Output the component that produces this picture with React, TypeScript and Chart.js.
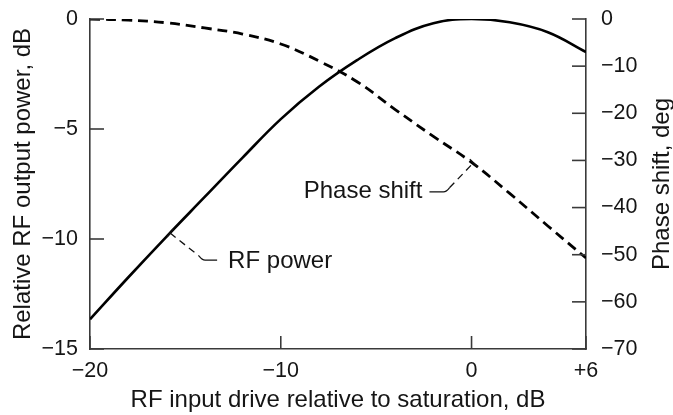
import React, { useEffect, useRef } from "react";
import { Chart, registerables } from "chart.js";

Chart.register(...registerables);

// ---- data ----
const inputDrive = [-20, -18, -16, -14, -12, -10, -8, -6, -4, -2, 0, 2, 4, 6];
const rfPower = [-13.65, -11.75, -9.9, -8.1, -6.3, -4.55, -3.08, -1.87, -0.87, -0.19, 0, -0.15, -0.6, -1.5];
const phaseShift = [0, -0.25, -0.8, -1.9, -3.2, -5.3, -8.9, -13.3, -19.2, -24.9, -30.4, -37.0, -43.9, -50.7];

const xTickValues = [-20, -10, 0, 6];
const xTickLabels = ["\u221220", "\u221210", "0", "+6"];
const powerTickValues = [0, -5, -10, -15];
const powerTickLabels = ["0", "\u22125", "\u221210", "\u221215"];
const phaseTickValues = [0, -10, -20, -30, -40, -50, -60, -70];
const phaseTickLabels = ["0", "\u221210", "\u221220", "\u221230", "\u221240", "\u221250", "\u221260", "\u221270"];

const xTitle = "RF input drive relative to saturation, dB";
const powerTitle = "Relative RF output power, dB";
const phaseTitle = "Phase shift, deg";
const powerLabel = "RF power";
const phaseLabel = "Phase shift";
const powerLabelAnchor = [-15.8, -9.73];
const phaseLabelAnchor = [0.1, -30.5];

// ---- styles ----
const FONT = '"Liberation Sans", Arial, Helvetica, sans-serif';
const AXIS = "#3a3a3a";
const TEXT = "#151515";
const TICK_SIZE = 21.5;
const TITLE_SIZE = 24;
const NOTE_SIZE = 24;

function labelFor(values: number[], labels: string[], v: number) {
  const i = values.findIndex((t) => Math.abs(t - v) < 1e-9);
  return i >= 0 ? labels[i] : "";
}

function drawBar(ctx: CanvasRenderingContext2D, ax: number, ay: number, bx: number, by: number, half: number) {
  const dx = ax - bx, dy = ay - by;
  const len = Math.hypot(dx, dy) || 1;
  const px = -dy / len, py = dx / len;
  ctx.beginPath();
  ctx.moveTo(ax - px * half, ay - py * half);
  ctx.lineTo(ax + px * half, ay + py * half);
  ctx.stroke();
}

const decorPlugin = {
  id: "decor",
  afterDraw(chart: any) {
    const ctx: CanvasRenderingContext2D = chart.ctx;
    const area = chart.chartArea;
    const xs = chart.scales.x;
    const ys = chart.scales.y;
    const y2s = chart.scales.y2;
    ctx.save();
    // inward tick marks
    ctx.strokeStyle = AXIS;
    ctx.lineWidth = 1.6;
    ctx.setLineDash([]);
    xTickValues.forEach((v) => {
      const px = xs.getPixelForValue(v);
      ctx.beginPath();
      ctx.moveTo(px, area.bottom);
      ctx.lineTo(px, area.bottom - 13);
      ctx.stroke();
    });
    powerTickValues.forEach((v) => {
      const py = ys.getPixelForValue(v);
      ctx.beginPath();
      ctx.moveTo(area.left, py);
      ctx.lineTo(area.left + 14, py);
      ctx.stroke();
    });
    phaseTickValues.forEach((v) => {
      const py = y2s.getPixelForValue(v);
      ctx.beginPath();
      ctx.moveTo(area.right, py);
      ctx.lineTo(area.right - 14, py);
      ctx.stroke();
    });

    // right axis title (reads bottom to top)
    ctx.fillStyle = TEXT;
    ctx.font = `${TITLE_SIZE}px ${FONT}`;
    ctx.textAlign = "center";
    ctx.textBaseline = "alphabetic";
    ctx.save();
    ctx.translate(y2s.right - 4, (area.top + area.bottom) / 2);
    ctx.rotate(-Math.PI / 2);
    ctx.fillText(phaseTitle, 0, 0);
    ctx.restore();

    // annotations
    ctx.font = `${NOTE_SIZE}px ${FONT}`;
    ctx.strokeStyle = "#111";
    ctx.lineWidth = 1.3;
    ctx.textBaseline = "alphabetic";

    // Phase shift label
    const pax = xs.getPixelForValue(phaseLabelAnchor[0]);
    const pay = y2s.getPixelForValue(phaseLabelAnchor[1]);
    ctx.textAlign = "right";
    ctx.fillText(phaseLabel, pax - 51, pay + 35);
    ctx.setLineDash([]);
    ctx.beginPath();
    ctx.moveTo(pax - 44, pay + 29);
    ctx.lineTo(pax - 30, pay + 29);
    ctx.quadraticCurveTo(pax - 27, pay + 29, pax - 24, pay + 25);
    ctx.stroke();
    ctx.setLineDash([7, 5]);
    ctx.beginPath();
    ctx.moveTo(pax - 24, pay + 25);
    ctx.lineTo(pax, pay);
    ctx.stroke();
    ctx.setLineDash([]);
    drawBar(ctx, pax, pay, pax - 24, pay + 25, 5);

    // RF power label
    const rax = xs.getPixelForValue(powerLabelAnchor[0]);
    const ray = ys.getPixelForValue(powerLabelAnchor[1]);
    ctx.textAlign = "left";
    ctx.fillText(powerLabel, rax + 58, ray + 35);
    ctx.setLineDash([7, 5]);
    ctx.beginPath();
    ctx.moveTo(rax, ray);
    ctx.lineTo(rax + 29, ray + 23);
    ctx.stroke();
    ctx.setLineDash([]);
    ctx.beginPath();
    ctx.moveTo(rax + 29, ray + 23);
    ctx.quadraticCurveTo(rax + 32, ray + 27, rax + 35, ray + 27);
    ctx.lineTo(rax + 47, ray + 27);
    ctx.stroke();
    drawBar(ctx, rax, ray, rax + 29, ray + 23, 5);

    ctx.restore();
  },
};

export default function App() {
  const ref = useRef<HTMLCanvasElement | null>(null);

  useEffect(() => {
    const canvas = ref.current;
    if (!canvas) return;
    const tickFont = { size: TICK_SIZE, family: FONT };
    const titleFont = { size: TITLE_SIZE, family: FONT };
    const chart = new Chart(canvas, {
      type: "line",
      data: {
        datasets: [
          {
            label: powerLabel,
            data: inputDrive.map((x, i) => ({ x, y: rfPower[i] })),
            yAxisID: "y",
            borderColor: "#000",
            borderWidth: 2.6,
            pointRadius: 0,
            tension: 0.4,
            fill: false,
          },
          {
            label: phaseLabel,
            data: inputDrive.map((x, i) => ({ x, y: phaseShift[i] })),
            yAxisID: "y2",
            borderColor: "#000",
            borderWidth: 2.8,
            borderDash: [10, 6],
            pointRadius: 0,
            tension: 0.4,
            fill: false,
          },
        ],
      },
      options: {
        responsive: false,
        animation: false,
        layout: { padding: { top: 19, left: 0, right: 0, bottom: 0 } },
        plugins: {
          legend: { display: false },
          tooltip: { enabled: false },
          title: { display: false },
        },
        scales: {
          x: {
            type: "linear",
            position: "bottom",
            min: -20,
            max: 6,
            grid: { display: false, drawTicks: false },
            border: { display: true, color: AXIS, width: 1.6 },
            ticks: {
              padding: 9,
              color: TEXT,
              font: tickFont,
              autoSkip: false,
              maxRotation: 0,
              callback: (v: any) => labelFor(xTickValues, xTickLabels, Number(v)),
            },
            afterBuildTicks: (s: any) => {
              s.ticks = xTickValues.map((v) => ({ value: v }));
            },
            afterFit: (s: any) => {
              s.height = 66;
              s.paddingLeft = 0;
              s.paddingRight = 0;
            },
            title: {
              display: true,
              text: xTitle,
              color: TEXT,
              font: titleFont,
              padding: { top: 0, bottom: 0 },
            },
          },
          y: {
            type: "linear",
            position: "left",
            min: -15,
            max: 0,
            grid: { display: false, drawTicks: false },
            border: { display: true, color: AXIS, width: 1.6 },
            ticks: {
              padding: 12,
              color: TEXT,
              font: tickFont,
              callback: (v: any) => labelFor(powerTickValues, powerTickLabels, Number(v)),
            },
            afterBuildTicks: (s: any) => {
              s.ticks = powerTickValues.map((v) => ({ value: v }));
            },
            afterFit: (s: any) => {
              s.width = 90;
              s.paddingTop = 0;
              s.paddingBottom = 0;
            },
            title: {
              display: true,
              text: powerTitle,
              color: TEXT,
              font: titleFont,
              padding: { top: 9, bottom: 0 },
            },
          },
          y2: {
            type: "linear",
            position: "right",
            min: -70,
            max: 0,
            grid: { display: false, drawTicks: false },
            border: { display: true, color: AXIS, width: 1.6 },
            ticks: {
              padding: 15,
              color: TEXT,
              font: tickFont,
              callback: (v: any) => labelFor(phaseTickValues, phaseTickLabels, Number(v)),
            },
            afterBuildTicks: (s: any) => {
              s.ticks = phaseTickValues.map((v) => ({ value: v }));
            },
            afterFit: (s: any) => {
              s.width = 87;
              s.paddingTop = 0;
              s.paddingBottom = 0;
            },
            title: { display: false },
          },
        },
      },
      plugins: [decorPlugin],
    } as any);
    return () => chart.destroy();
  }, []);

  return (
    <div style={{ position: "absolute", left: 0, top: 0, width: 673, height: 415, background: "#fff" }}>
      <canvas ref={ref} width={673} height={415} style={{ display: "block" }} />
    </div>
  );
}
